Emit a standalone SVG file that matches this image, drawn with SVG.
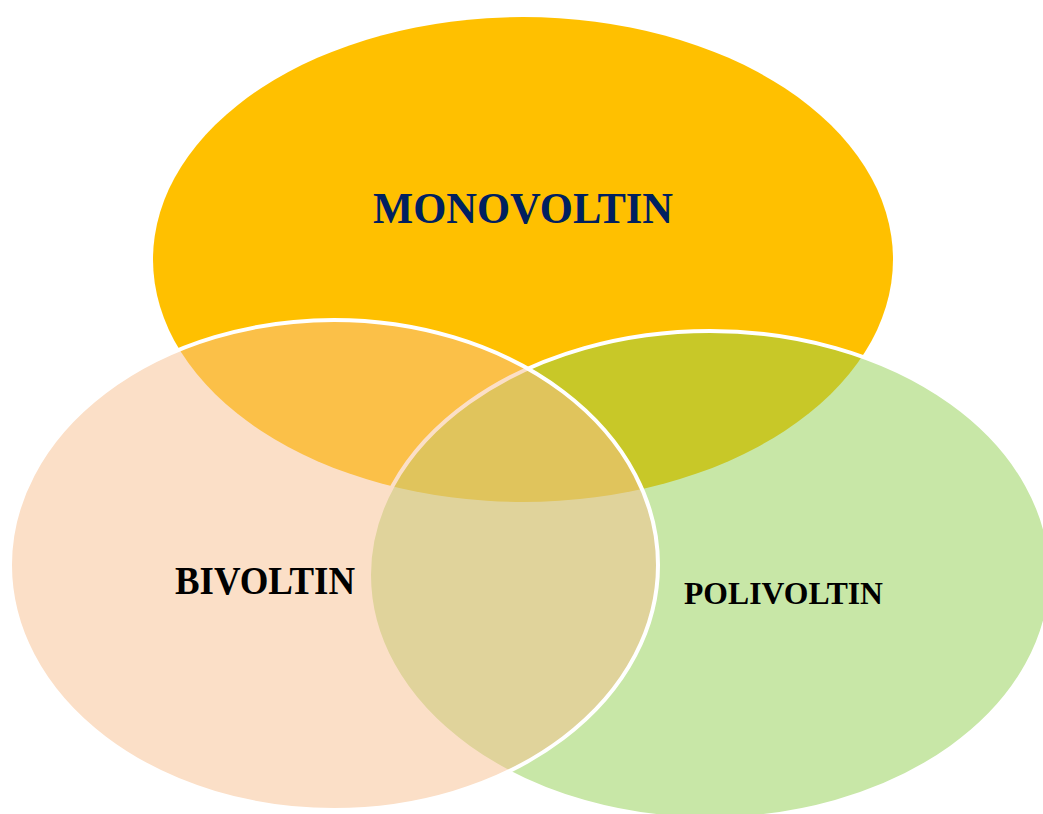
<svg xmlns="http://www.w3.org/2000/svg" width="1043" height="814" viewBox="0 0 1043 814">
<style>
.lbl{font-family:"Liberation Serif","Times New Roman",serif;font-weight:bold}
.ov{stroke:#FFFFFF;stroke-width:4;fill-opacity:0.5}
</style>
<rect width="1043" height="814" fill="#FFFFFF"/>
<g id="monovoltin">
<ellipse cx="523" cy="259.5" rx="370" ry="242.5" fill="#FFC000"/>
</g>
<g id="polivoltin">
<ellipse class="ov" cx="710" cy="575" rx="341" ry="244" fill="#92D050"/>
</g>
<g id="bivoltin">
<ellipse class="ov" cx="334" cy="565" rx="324" ry="245" fill="#F7BF8F"/>
</g>
<g id="labels">
<text class="lbl" x="373" y="223" font-size="45" fill="#002060" textLength="300" lengthAdjust="spacingAndGlyphs">MONOVOLTIN</text>
<text class="lbl" x="175" y="594" font-size="39" fill="#000000" textLength="180" lengthAdjust="spacingAndGlyphs">BIVOLTIN</text>
<text class="lbl" x="684" y="604" font-size="32" fill="#000000" textLength="199" lengthAdjust="spacingAndGlyphs">POLIVOLTIN</text>
</g>
<g id="connectors"/>
</svg>
